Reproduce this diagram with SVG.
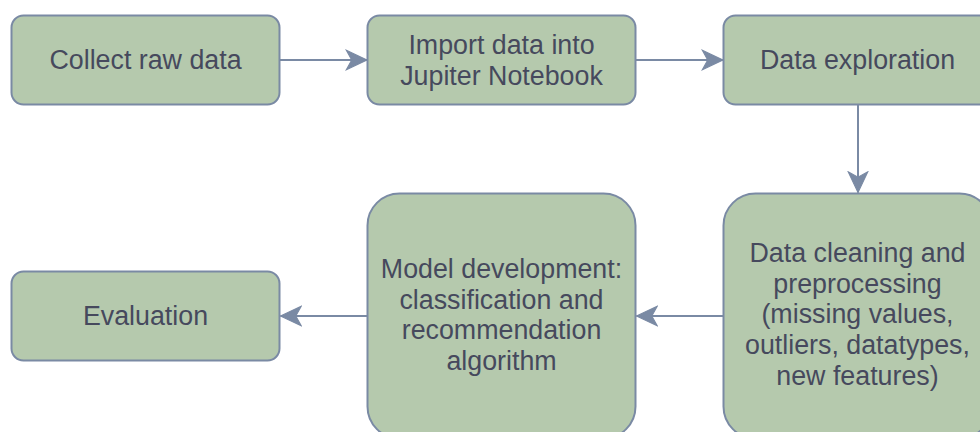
<svg xmlns="http://www.w3.org/2000/svg" width="980" height="432" viewBox="0 0 980 432">
<defs>
<style>
.box{fill:#b5c9ad;stroke:#7a8aa4;stroke-width:2}
.lbl{font-family:"Liberation Sans",Arial,Helvetica,sans-serif;font-size:26.8px;fill:#46495d;text-anchor:middle}
.edge{fill:none;stroke:#7a8aa4;stroke-width:2}
</style>
<marker id="arr" markerUnits="userSpaceOnUse" markerWidth="24" markerHeight="24" viewBox="-20 -10 22 20" refX="0" refY="0" orient="auto">
<path d="M0,0 L-19,-9 L-14,0 L-19,9 Z" fill="#7a8aa4" stroke="#7a8aa4" stroke-width="1" stroke-linejoin="miter"/>
</marker>
</defs>
<rect width="980" height="432" fill="#ffffff"/>
<g id="connectors">
<path class="edge" d="M279.5,60 L367,60" marker-end="url(#arr)"/>
<path class="edge" d="M635.5,60 L723,60" marker-end="url(#arr)"/>
<path class="edge" d="M858,104.5 L858,192.5" marker-end="url(#arr)"/>
<path class="edge" d="M723.5,316 L636.5,316" marker-end="url(#arr)"/>
<path class="edge" d="M367.5,316 L280.5,316" marker-end="url(#arr)"/>
</g>
<g id="n1">
<rect class="box" x="11.5" y="15.5" width="268" height="89" rx="12"/>
<text class="lbl" x="145.5" y="69">Collect raw data</text>
</g>
<g id="n2">
<rect class="box" x="367.5" y="15.5" width="268" height="89" rx="12"/>
<text class="lbl" x="501.5" y="54">Import data into</text>
<text class="lbl" x="501.5" y="85">Jupiter Notebook</text>
</g>
<g id="n3">
<rect class="box" x="723.5" y="15.5" width="268" height="89" rx="12"/>
<text class="lbl" x="857.5" y="69">Data exploration</text>
</g>
<g id="n4">
<rect class="box" x="723.5" y="193.5" width="268" height="245" rx="32"/>
<text class="lbl" x="857.5" y="262">Data cleaning and</text>
<text class="lbl" x="857.5" y="292.7">preprocessing</text>
<text class="lbl" x="857.5" y="323.4">(missing values,</text>
<text class="lbl" x="857.5" y="354.1">outliers, datatypes,</text>
<text class="lbl" x="857.5" y="384.8">new features)</text>
</g>
<g id="n5">
<rect class="box" x="367.5" y="193.5" width="268" height="245" rx="32"/>
<text class="lbl" x="501.5" y="278">Model development:</text>
<text class="lbl" x="501.5" y="308.7">classification and</text>
<text class="lbl" x="501.5" y="339.4">recommendation</text>
<text class="lbl" x="501.5" y="370.1">algorithm</text>
</g>
<g id="n6">
<rect class="box" x="11.5" y="271.5" width="268" height="89" rx="12"/>
<text class="lbl" x="145.5" y="325">Evaluation</text>
</g>
</svg>
